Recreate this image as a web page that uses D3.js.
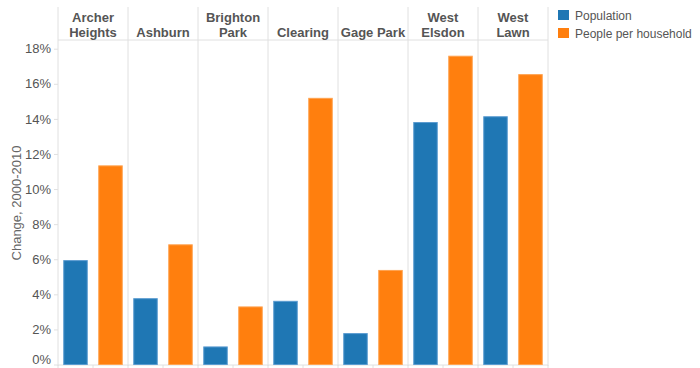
<!DOCTYPE html>
<html>
<head>
<meta charset="utf-8">
<script src="https://cdn.jsdelivr.net/npm/d3@7"></script>
<style>
  body { margin: 0; background: #fff; }
  #chart { width: 700px; height: 368px; }
</style>
</head>
<body>
<div id="chart"></div>
<script>
// neighbourhoods, two-line headers
const areas = ["Archer Heights", "Ashburn", "Brighton Park", "Clearing", "Gage Park", "West Elsdon", "West Lawn"];
const areaLines = [["Archer", "Heights"], ["Ashburn"], ["Brighton", "Park"], ["Clearing"], ["Gage Park"], ["West", "Elsdon"], ["West", "Lawn"]];
const seriesNames = ["Population", "People per household"];
const population = [5.95, 3.78, 1.03, 3.63, 1.79, 13.82, 14.15];
const perHousehold = [11.35, 6.85, 3.31, 15.2, 5.39, 17.6, 16.55];
const yTicks = [0, 2, 4, 6, 8, 10, 12, 14, 16, 18];

const colors = ["#1f77b4", "#ff7f0e"];
const strokes = ["#5a9bd0", "#ffa24f"];
const gridColor = "#e0e0e0";
const textColor = "#555";

const svg = d3.select("#chart").append("svg")
  .attr("width", 700)
  .attr("height", 368)
  .style("font-family", "Arial, 'Liberation Sans', Helvetica, sans-serif");

const plotLeft = 58, plotRight = 548, plotTop = 7, headerBottom = 40, plotBottom = 365;

const xPanel = d3.scaleBand().domain(areas).range([plotLeft, plotRight]);
const xInner = d3.scaleBand().domain(seriesNames)
  .range([0, xPanel.bandwidth()]).paddingInner(0.3).paddingOuter(0.15);
const y = d3.scaleLinear().domain([0, 18]).range([364.5, 48.7]);

// panel separators
svg.append("g").selectAll("line")
  .data(areas.map((a) => xPanel(a)).concat([plotRight]))
  .join("line")
  .attr("x1", (d) => d).attr("x2", (d) => d)
  .attr("y1", plotTop).attr("y2", plotBottom + 1)
  .attr("stroke", gridColor);

svg.append("line")
  .attr("x1", plotLeft).attr("x2", plotRight)
  .attr("y1", headerBottom).attr("y2", headerBottom)
  .attr("stroke", gridColor);

svg.append("line")
  .attr("x1", plotLeft).attr("x2", plotRight)
  .attr("y1", plotBottom).attr("y2", plotBottom)
  .attr("stroke", gridColor);

// little ticks under the baseline
const halfTicks = d3.range(0, areas.length * 2 + 1).map((i) => plotLeft + i * xPanel.bandwidth() / 2);
svg.append("g").selectAll("line")
  .data(halfTicks)
  .join("line")
  .attr("x1", (d) => d).attr("x2", (d) => d)
  .attr("y1", plotBottom).attr("y2", plotBottom + 3)
  .attr("stroke", gridColor);

// header labels
const headers = svg.append("g");
areaLines.forEach((lines, i) => {
  const cx = xPanel(areas[i]) + xPanel.bandwidth() / 2;
  const t = headers.append("text")
    .attr("text-anchor", "middle")
    .attr("font-size", "13px")
    .attr("font-weight", "bold")
    .attr("fill", textColor);
  lines.forEach((ln, j) => {
    t.append("tspan")
      .attr("x", cx)
      .attr("y", lines.length === 2 ? 21.5 + j * 15 : 36.5)
      .text(ln);
  });
});

// y axis
const yAxis = d3.axisLeft(y).tickValues(yTicks).tickSize(4).tickPadding(3)
  .tickFormat((d) => d + "%");
const yg = svg.append("g").attr("transform", `translate(${plotLeft},0)`).call(yAxis);
yg.select(".domain").remove();
yg.selectAll(".tick line").attr("stroke", gridColor);
yg.selectAll(".tick text")
  .attr("font-size", "13px")
  .attr("fill", textColor)
  .attr("font-family", "Arial, 'Liberation Sans', Helvetica, sans-serif");
// keep 0% label inside the view
yg.selectAll(".tick").filter((d) => d === 0).select("text").attr("dy", "-0.05em");

svg.append("text")
  .attr("transform", "rotate(-90)")
  .attr("x", -203)
  .attr("y", 21)
  .attr("text-anchor", "middle")
  .attr("font-size", "13px")
  .attr("fill", "#666")
  .text("Change, 2000-2010");

// bars
const rows = areas.map((a, i) => ({ area: a, values: [population[i], perHousehold[i]] }));
const panels = svg.append("g").selectAll("g")
  .data(rows)
  .join("g")
  .attr("transform", (d) => `translate(${xPanel(d.area)},0)`);

panels.selectAll("rect")
  .data((d) => d.values.map((v, k) => ({ key: seriesNames[k], k, v })))
  .join("rect")
  .attr("x", (d) => xInner(d.key) + 0.5)
  .attr("width", xInner.bandwidth() - 1)
  .attr("y", (d) => y(d.v) + 0.5)
  .attr("height", (d) => y(0) - y(d.v) - 0.5)
  .attr("fill", (d) => colors[d.k])
  .attr("stroke", (d) => strokes[d.k])
  .attr("stroke-width", 1);

// legend
const legend = svg.append("g").attr("transform", "translate(558,10)");
seriesNames.forEach((s, i) => {
  legend.append("rect")
    .attr("x", 0).attr("y", i * 18)
    .attr("width", 11).attr("height", 10)
    .attr("fill", colors[i]);
  legend.append("text")
    .attr("x", 17).attr("y", i * 18 + 9.5)
    .attr("font-size", "12px")
    .attr("fill", textColor)
    .text(s);
});
</script>
</body>
</html>
